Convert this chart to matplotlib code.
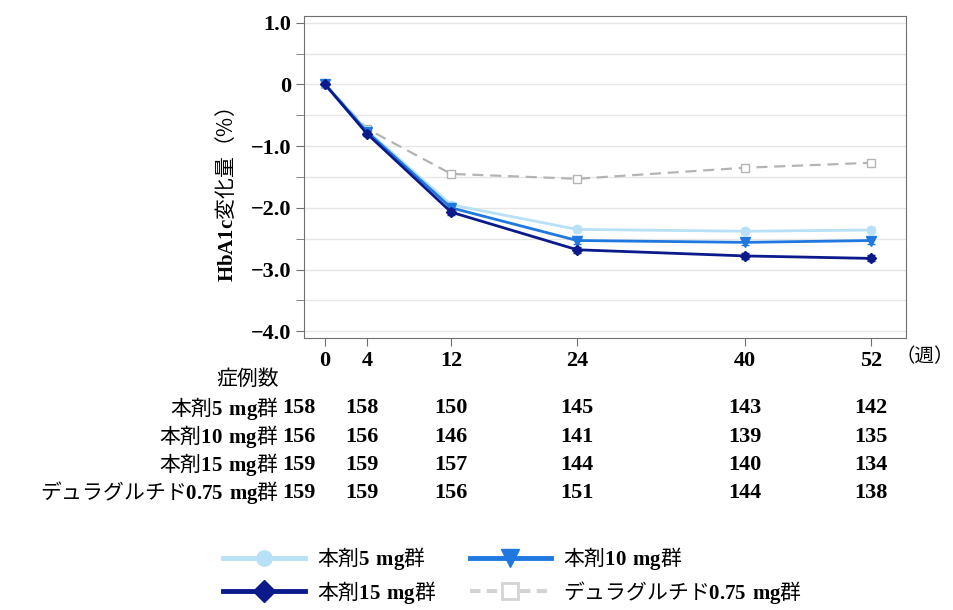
import matplotlib.pyplot as plt
import matplotlib.transforms as mtransforms
from matplotlib.lines import Line2D
from matplotlib.ticker import MultipleLocator

plt.rcParams['font.family'] = ['Liberation Serif', 'Noto Sans CJK JP']
plt.rcParams['mathtext.fontset'] = 'custom'
plt.rcParams['mathtext.rm'] = 'Noto Sans CJK JP'
plt.rcParams['mathtext.bf'] = 'Liberation Serif:bold'
JP = 'Noto Sans CJK JP'

# データ
weeks = [0, 4, 12, 24, 40, 52]
groups = ['本剤$\\mathbf{5\\ mg}$群', '本剤$\\mathbf{10\\ mg}$群',
          '本剤$\\mathbf{15\\ mg}$群', 'デュラグルチド$\\mathbf{0.75\\ mg}$群']
mean_5 = [0, -0.75, -1.95, -2.35, -2.38, -2.36]
mean_10 = [0, -0.77, -2.00, -2.53, -2.56, -2.53]
mean_15 = [0, -0.80, -2.07, -2.68, -2.78, -2.82]
mean_dula = [0, -0.72, -1.45, -1.53, -1.35, -1.27]
se_5 = [0, 0.04, 0.05, 0.05, 0.05, 0.05]
se_10 = [0, 0.04, 0.05, 0.05, 0.05, 0.05]
se_15 = [0, 0.04, 0.05, 0.05, 0.05, 0.05]
se_dula = [0, 0.04, 0.04, 0.04, 0.05, 0.05]
n_5 = [158, 158, 150, 145, 143, 142]
n_10 = [156, 156, 146, 141, 139, 135]
n_15 = [159, 159, 157, 144, 140, 134]
n_dula = [159, 159, 156, 151, 144, 138]

c5, c10, c15, cd = '#b8e0f7', '#1f78e0', '#0b1a8a', '#b4b4b4'
fs = 15
fs_num = 16

fig = plt.figure(figsize=(9.54, 6.10), dpi=100)
ax = fig.add_axes([0.3187, 0.4459, 0.631, 0.528])

ax.errorbar(weeks, mean_dula, yerr=se_dula, color=cd, ls=(0, (5, 3)), lw=1.6,
            marker='s', ms=6, mfc='white', mec=cd, capsize=3, zorder=2)
ax.errorbar(weeks, mean_5, yerr=se_5, color=c5, lw=2, marker='o', ms=6,
            capsize=3, zorder=3)
ax.errorbar(weeks, mean_10, yerr=se_10, color=c10, lw=2, marker='v', ms=7,
            capsize=3, zorder=4)
ax.errorbar(weeks, mean_15, yerr=se_15, color=c15, lw=2, marker='D', ms=5.5,
            capsize=3, zorder=5)

ax.set_xlim(-2, 55.3)
ax.set_ylim(-4.11, 1.11)
ax.set_xticks(weeks)
ax.set_xticklabels([str(w) for w in weeks])
ax.set_yticks([1, 0, -1, -2, -3, -4])
ax.set_yticklabels(['1.0', '0', '\u22121.0', '\u22122.0', '\u22123.0', '\u22124.0'])
ax.yaxis.set_minor_locator(MultipleLocator(0.5))
ax.grid(True, which='both', axis='y', color='#e6e6e6', lw=1)
ax.set_axisbelow(True)
for s in ax.spines.values():
    s.set_color('#707070')
ax.tick_params(axis='both', which='both', colors='#707070', labelcolor='black',
               length=6, labelsize=fs_num)
for lab in ax.get_xticklabels() + ax.get_yticklabels():
    lab.set_fontweight('bold')
ax.set_ylabel('$\\mathbf{HbA1c}$変化量（%）', fontsize=fs, family=JP)
ax.yaxis.set_label_coords(-0.110, 0.444)

fig.text(1.0, 1 - 357 / 610, '（週）', fontsize=14, ha='right', va='center', family=JP)

# 症例数の表
trans = mtransforms.blended_transform_factory(ax.transData, fig.transFigure)
fig.text(0.292, 1 - 379 / 610, '症例数', fontsize=fs, ha='right', va='center', family=JP)
rows = [n_5, n_10, n_15, n_dula]
row_y = [408, 437, 465, 493]
col_shift = [-26, -5, 0, 0, 0, 0]
for name, vals, py in zip(groups, rows, row_y):
    fy = 1 - py / 610
    fig.text(0.292, fy, name, fontsize=fs, ha='right', va='center', family=JP)
    for w, v, dx in zip(weeks, vals, col_shift):
        t = mtransforms.offset_copy(trans, fig=fig, x=dx, y=0, units='dots')
        ax.text(w, fy, str(v), transform=t, fontsize=fs_num, fontweight='bold',
                ha='center', va='center')

# 凡例
h5 = Line2D([], [], color=c5, lw=3.5, marker='o', ms=11)
h10 = Line2D([], [], color=c10, lw=3.5, marker='v', ms=13)
h15 = Line2D([], [], color=c15, lw=3.5, marker='D', ms=11)
hd = Line2D([], [], color='#d4d4d4', lw=3, ls=(0, (2.5, 1.5)), marker='s', ms=12,
            mfc='white', mec='#d4d4d4', mew=2)
fig.legend([h5, h15, h10, hd], [groups[0], groups[2], groups[1], groups[3]],
           loc='upper left', bbox_to_anchor=(213 / 954, 1 - 535 / 610), ncol=2,
           frameon=False, borderpad=0, handlelength=3.9, handletextpad=0.6,
           columnspacing=1.6, prop={'family': JP, 'size': fs}, labelspacing=0.3)

fig.savefig('out.png', dpi=100)
